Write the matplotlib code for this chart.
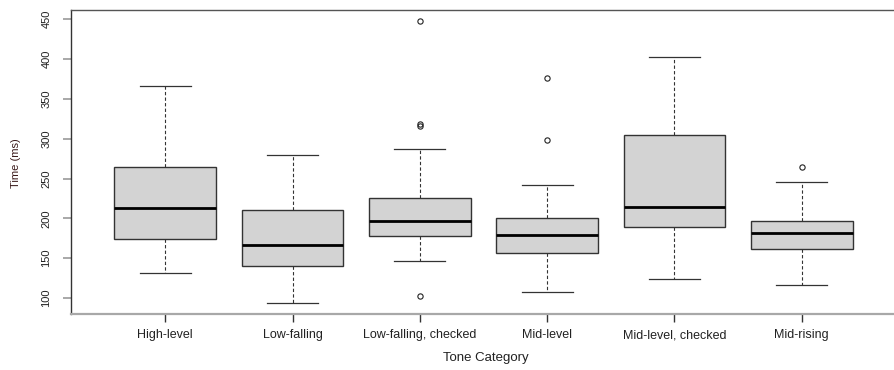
import matplotlib
matplotlib.use("Agg")
import matplotlib.pyplot as plt

plt.rcParams['font.family'] = ['Liberation Sans', 'DejaVu Sans']

categories = ["High-level", "Low-falling", "Low-falling, checked",
              "Mid-level", "Mid-level, checked", "Mid-rising"]
whisker_low = [131.6, 94.0, 146.7, 107.3, 124.1, 116.9]
q1 = [174.3, 139.9, 178.0, 156.7, 189.3, 162.1]
median = [212.7, 166.7, 196.9, 179.7, 214.4, 182.2]
q3 = [264.6, 210.7, 225.7, 200.6, 304.8, 197.2]
whisker_high = [366.6, 280.0, 287.2, 242.0, 402.6, 245.8]
outliers = [[], [], [447.8, 318.0, 316.5, 102.3], [376.3, 298.5], [], [264.6]]
yticks = [100, 150, 200, 250, 300, 350, 400, 450]

stats = []
for i, c in enumerate(categories):
    stats.append(dict(label=c, whislo=whisker_low[i], q1=q1[i], med=median[i],
                      q3=q3[i], whishi=whisker_high[i], fliers=outliers[i]))

fig = plt.figure(figsize=(8.94, 3.70), dpi=100)
left = 71 / 894
ax = fig.add_axes([left, (370 - 314) / 370, (896 - 71) / 894, 304 / 370])

positions = list(range(1, len(categories) + 1))
ax.bxp(stats, positions=positions, widths=0.8, patch_artist=True,
       boxprops=dict(facecolor='#d3d3d3', edgecolor='#333333', linewidth=1.0),
       medianprops=dict(color='black', linewidth=2.0),
       whiskerprops=dict(color='#333333', linewidth=0.8, linestyle=(0, (3, 2))),
       capprops=dict(color='#333333', linewidth=0.9),
       capwidths=0.4,
       flierprops=dict(marker='o', markerfacecolor='none', markeredgecolor='#222222',
                       markersize=3.8, markeredgewidth=0.8))

ax.set_xlim(0.26, 6.74)
ax.set_ylim(80, 461.5)
ax.set_yticks(yticks)
ax.set_yticklabels([str(v) for v in yticks], rotation=90, va='center', fontsize=8, color='#222222')
ax.set_xticks(positions)
ax.set_xticklabels(categories, fontsize=9, color='#222222')
ax.tick_params(axis='y', length=6, width=1.2, color='#999999', pad=8)
ax.tick_params(axis='x', length=6, width=1.0, color='#333333', pad=5)

ax.spines['left'].set_color('#333333')
ax.spines['left'].set_linewidth(1.0)
ax.spines['top'].set_color('#555555')
ax.spines['top'].set_linewidth(1.0)
ax.spines['bottom'].set_color('#a8a8a8')
ax.spines['bottom'].set_linewidth(1.6)
ax.spines['right'].set_visible(False)

fig.text(16 / 894, 1 - 163 / 370, "Time (ms)", rotation=90, ha='center', va='center',
         fontsize=8, color='#3a1a1a')
fig.text(486 / 894, 1 - 358 / 370, "Tone Category", ha='center', va='center',
         fontsize=9.5, color='#222222')

fig.savefig("out.png", dpi=100)
